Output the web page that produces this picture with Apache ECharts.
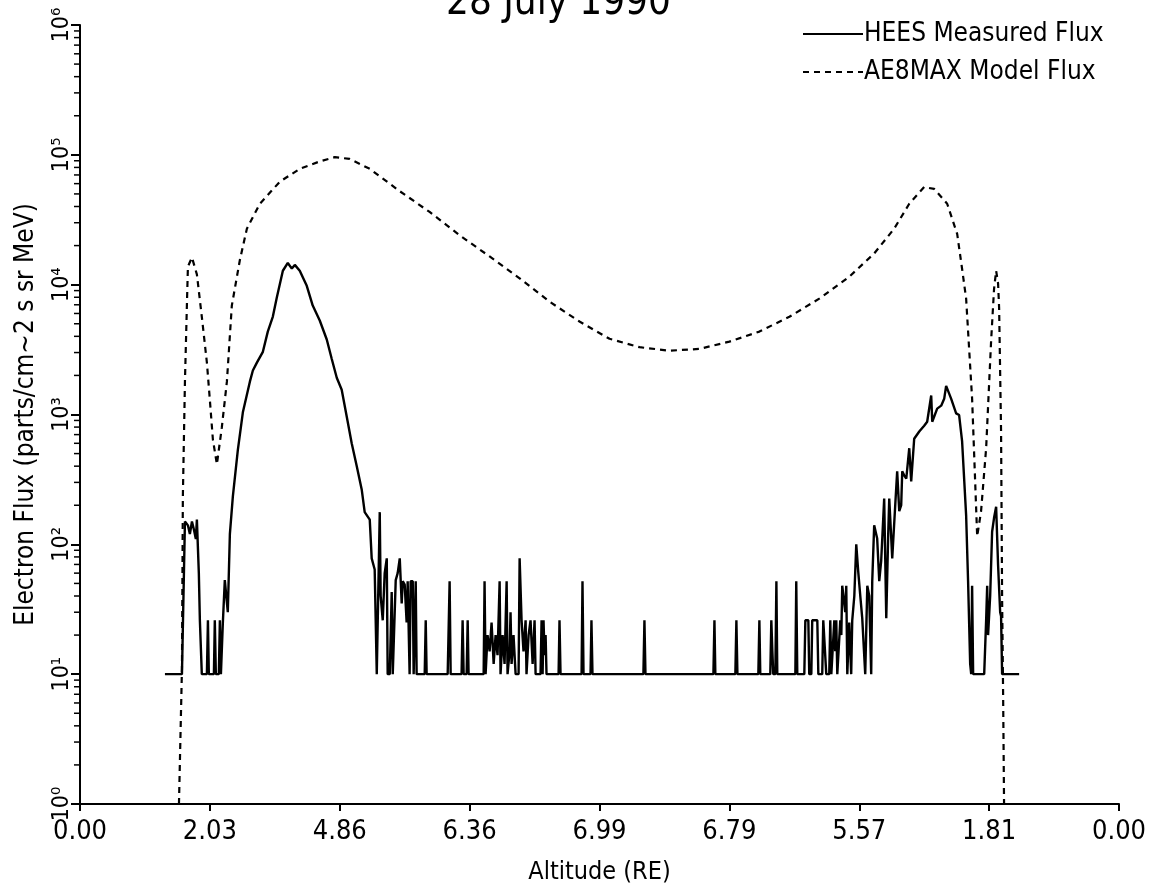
<!DOCTYPE html>
<html><head><meta charset="utf-8">
<script src="https://cdn.jsdelivr.net/npm/echarts@6/dist/echarts.min.js"></script>
<style>html,body{margin:0;padding:0;background:#fff;}#c{width:1166px;height:890px;}</style>
</head><body><div id="c"></div>
<script>
// ---- data ----
const titleText = '28 July 1990';
const xTickLabels = ['0.00','2.03','4.86','6.36','6.99','6.79','5.57','1.81','0.00'];
const yTickLabels = ['10\u2070','10\u00b9','10\u00b2','10\u00b3','10\u2074','10\u2075','10\u2076'];
const seriesNames = ['HEES Measured Flux','AE8MAX Model Flux'];

// HEES measured flux (x in tick units along the orbit, y flux)
const heesX = [0.654,0.785,0.800,0.808,0.831,0.846,0.862,0.877,0.892,0.900,0.915,0.923,0.938,0.977,0.985,0.992,1.031,1.038,1.046,1.069,1.077,1.085,1.092,1.100,1.115,1.138,1.154,1.177,1.215,1.254,1.308,1.331,1.362,1.408,1.446,1.485,1.515,1.562,1.600,1.631,1.654,1.692,1.746,1.792,1.846,1.900,1.938,1.977,2.015,2.054,2.092,2.131,2.169,2.192,2.231,2.246,2.269,2.285,2.300,2.308,2.315,2.331,2.346,2.362,2.369,2.385,2.400,2.408,2.423,2.431,2.446,2.462,2.477,2.485,2.500,2.515,2.523,2.538,2.546,2.562,2.569,2.585,2.592,2.654,2.662,2.669,2.831,2.846,2.854,2.938,2.946,2.954,2.977,2.985,2.992,3.108,3.115,3.123,3.138,3.154,3.169,3.185,3.200,3.215,3.231,3.238,3.254,3.269,3.285,3.292,3.308,3.315,3.323,3.338,3.354,3.377,3.385,3.400,3.415,3.431,3.438,3.454,3.469,3.485,3.500,3.508,3.546,3.554,3.562,3.569,3.577,3.585,3.592,3.685,3.692,3.700,3.862,3.869,3.877,3.931,3.938,3.946,4.338,4.346,4.354,4.877,4.885,4.892,5.046,5.054,5.062,5.223,5.231,5.238,5.315,5.323,5.331,5.338,5.354,5.362,5.369,5.508,5.515,5.523,5.577,5.585,5.608,5.615,5.631,5.638,5.677,5.685,5.715,5.723,5.738,5.746,5.769,5.777,5.785,5.800,5.808,5.815,5.823,5.831,5.846,5.854,5.862,5.869,5.892,5.900,5.908,5.923,5.938,5.946,5.962,5.977,5.992,6.008,6.023,6.038,6.046,6.062,6.077,6.092,6.100,6.115,6.138,6.154,6.169,6.192,6.208,6.223,6.231,6.254,6.277,6.292,6.308,6.323,6.331,6.346,6.362,6.385,6.400,6.423,6.462,6.500,6.523,6.554,6.562,6.600,6.631,6.654,6.669,6.708,6.746,6.769,6.792,6.823,6.838,6.854,6.862,6.869,6.877,6.962,6.977,6.985,6.992,7.008,7.023,7.038,7.054,7.069,7.085,7.092,7.100,7.231];
const heesY = [10,10,10,150,140,120,150,130,110,155,60,26,10,10,26,10,10,26,10,10,26,10,10,25,53,30,120,234,530,1040,1790,2180,2510,3040,4350,5680,7940,12800,14700,13300,14200,12800,9800,6900,5300,3780,2690,1920,1550,960,600,400,265,177,155,78,64,10,10,177,40,26,60,78,10,10,43,10,10,53,60,78,35,52,49,25,52,10,52,52,10,52,10,10,26,10,10,52,10,10,26,10,10,26,10,10,52,10,20,15,25,12,20,14,52,10,20,12,52,10,15,30,12,20,10,10,78,26,15,26,10,20,26,12,26,10,10,26,10,26,14,20,10,10,26,10,10,52,10,10,26,10,10,26,10,10,26,10,10,26,10,10,26,10,10,26,15,10,10,52,10,10,52,10,10,26,26,10,10,26,26,10,10,26,26,10,10,26,10,10,26,15,26,10,10,26,20,48,30,48,10,25,10,26,40,100,62,40,27,27,10,48,40,10,52,140,111,52,75,225,27,120,225,78,200,365,180,200,365,340,320,550,305,650,740,820,880,1400,880,1110,1170,1320,1660,1320,1020,990,620,167,52,12,10,48,10,10,26,48,20,40,125,160,195,69,30,28,10,10];

// AE8MAX model flux
const ae8X = [0.762,0.785,0.792,0.808,0.823,0.831,0.862,0.900,0.938,0.977,1.000,1.023,1.054,1.092,1.131,1.169,1.231,1.285,1.385,1.538,1.692,1.846,1.962,2.077,2.231,2.462,2.692,2.923,3.154,3.385,3.615,3.846,4.077,4.308,4.538,4.769,5.000,5.231,5.462,5.692,5.923,6.115,6.269,6.385,6.500,6.577,6.677,6.754,6.792,6.823,6.869,6.908,6.938,6.977,7.015,7.038,7.054,7.069,7.077,7.092,7.100,7.108,7.115];
const ae8Y = [1,11,234,1790,6900,13800,16200,12000,5660,2510,1290,645,413,795,1790,6900,15500,27000,42000,62000,78000,89000,96000,93000,78000,52500,36300,24000,16500,11200,7400,5200,3830,3300,3100,3200,3640,4350,5660,7800,11500,17400,27000,42000,56500,54600,42000,24600,13200,7800,1320,115,180,550,3640,9300,12800,10200,6600,740,38,6.6,1];

// minor tick positions on the log axis
const minorMult = [2,3,4,5,6,7,8,9];
const decades = [1,10,100,1000,10000,100000];

// ---- chart ----
const FONT = '"Liberation Sans Narrow","DejaVu Sans Condensed","Liberation Sans",sans-serif';
const zip = (a,b) => a.map((v,i)=>[v,b[i]]);
const minorData = [];
decades.forEach(d => minorMult.forEach(m => minorData.push([0, d*m])));

const chart = echarts.init(document.getElementById('c'), null, {renderer:'canvas'});
chart.setOption({
  animation: false,
  backgroundColor: '#fff',
  textStyle: {fontFamily: FONT, color:'#000'},
  graphic: [{
    type:'text', left: 446, top: -16,
    style:{text: titleText, font: '40px ' + FONT, fill:'#000'}
  }],
  legend: {
    orient:'vertical', left: 797, top: 16, itemWidth: 60, itemHeight: 14, itemGap: 12,
    data: seriesNames,
    itemStyle:{opacity:0},
    textStyle:{fontSize: 26, fontFamily: FONT, color:'#000', padding:[0,0,0,-4]}
  },
  grid: {left: 80, right: 47, top: 25, bottom: 84, containLabel: false},
  xAxis: {
    type:'value', min:0, max:8, interval:1,
    axisLine:{show:true, lineStyle:{color:'#000', width:2}},
    axisTick:{show:true, inside:false, length:7, lineStyle:{color:'#000', width:2}},
    splitLine:{show:false},
    axisLabel:{formatter: v => xTickLabels[Math.round(v)], fontSize: 27, color:'#000', margin: 14, fontFamily: FONT, showMinLabel:true, showMaxLabel:true},
    name:'Altitude (RE)', nameLocation:'middle', nameGap: 56,
    nameTextStyle:{fontSize: 25, color:'#000', fontFamily: FONT}
  },
  yAxis: {
    type:'log', logBase:10, min:1, max:1000000, splitNumber:6,
    axisLine:{show:true, lineStyle:{color:'#000', width:2}},
    axisTick:{show:true, inside:false, length:9, lineStyle:{color:'#000', width:2}},
    splitLine:{show:false},
    axisLabel:{formatter: v => yTickLabels[Math.round(Math.log10(v))], rotate:90, fontSize: 23, color:'#000', margin: 6, fontFamily: FONT},
    name:'Electron Flux (parts/cm~2 s sr MeV)', nameLocation:'middle', nameGap: 41,
    nameTextStyle:{fontSize: 26, color:'#000', fontFamily: FONT}
  },
  series: [
    {name: seriesNames[0], type:'line', data: zip(heesX, heesY), symbol:'none', showSymbol:false,
     lineStyle:{color:'#000', width:2.4}, itemStyle:{color:'#000'}, z:3},
    {name: seriesNames[1], type:'line', data: zip(ae8X, ae8Y), symbol:'none', showSymbol:false,
     lineStyle:{color:'#000', width:2.2, type:[6,5]}, itemStyle:{color:'#000'}, z:2},
    {type:'custom', data: minorData, clip:false, silent:true, z:4,
     renderItem: (params, api) => {
       const p = api.coord([api.value(0), api.value(1)]);
       return {type:'line', shape:{x1:p[0]-6, y1:p[1], x2:p[0], y2:p[1]}, style:{stroke:'#000', lineWidth:1.5}};
     }}
  ]
});
</script>
</body></html>
